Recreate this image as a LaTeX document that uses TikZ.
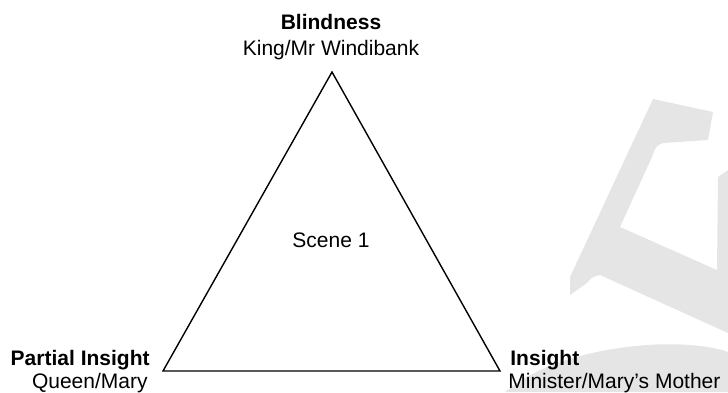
\documentclass[tikz,border=0pt]{standalone}
\usepackage{fontspec}
\setmainfont{Liberation Sans}
\usepackage{tikz}
\definecolor{markGray}{rgb}{0.9, 0.9, 0.9}

\begin{document}
\begin{tikzpicture}[x=0.5pt, y=-0.5pt,
        lbl/.style={inner sep=0, font=\fontsize{10.5}{12}\selectfont},
        head/.style={lbl, font=\fontsize{10.5}{12}\selectfont\bfseries}]
        \useasboundingbox (0, 0) rectangle (728, 392);

        % faint mark in the background
        \fill[markGray] (653, 99) -- (713, 112) -- (708, 140) -- (663, 143)
            .. controls (656, 146) .. (652, 157) -- (620, 227) -- (717, 270)
            -- (718, 177) -- (728, 170) -- (728, 333) -- (600, 275)
            .. controls (592, 277) .. (587, 283) -- (570, 295) -- (570, 277) -- cycle;
        \fill[markGray] (505, 392) .. controls (560, 345) and (680, 335) .. (728, 352)
            -- (728, 392) -- cycle;

        \coordinate (top)   at (332,  72);
        \coordinate (left)  at (163, 371);
        \coordinate (right) at (500, 371);
        \draw[line width=0.7pt, line join=miter] (top) -- (left) -- (right) -- cycle;

        \node[head, anchor=base]      (blind)    at (331,  29) {Blindness};
        \node[lbl,  anchor=base]      (blindsub) at (331,  55) {King/Mr Windibank};
        \node[head, anchor=base east] (partial)  at (150, 365) {Partial Insight};
        \node[lbl,  anchor=base east] (partsub)  at (148, 388) {Queen/Mary};
        \node[head, anchor=base west] (insight)  at (510, 365) {Insight};
        \node[lbl,  anchor=base west] (inssub)   at (508, 388) {Minister/Mary’s Mother};
        \node[lbl,  anchor=base]      (scene)    at (331, 247) {Scene 1};
    \end{tikzpicture}
\end{document}
